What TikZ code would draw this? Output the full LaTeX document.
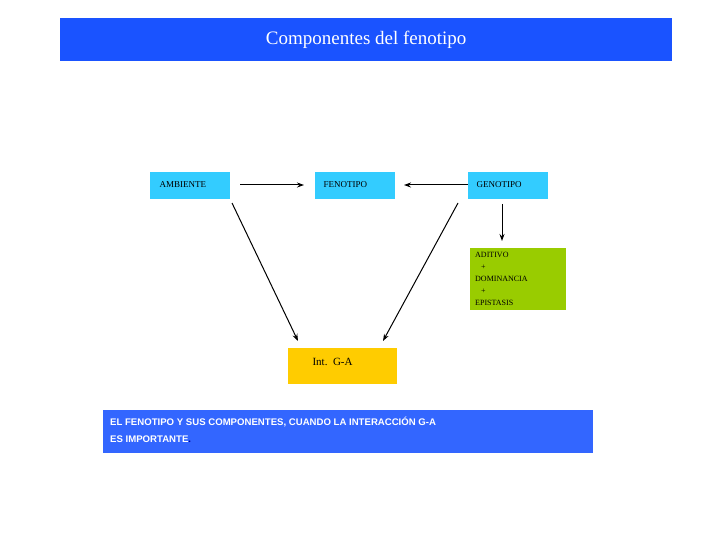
\documentclass[tikz,border=0pt]{standalone}
\usetikzlibrary{arrows.meta}
\usepackage{fontspec}
\newfontfamily\arialf{Liberation Sans}
\setmainfont{Liberation Serif}
\begin{document}
\begin{tikzpicture}[x=1pt,y=-1pt,
 box/.style={draw=none,fill=#1,inner sep=0pt,anchor=north west},
 arr/.style={-{Stealth[length=7pt,width=5pt]},line width=1pt},
 lbl/.style={font=\fontsize{9}{10}\selectfont}]
\useasboundingbox (0,0) rectangle (720,540);
\fill[white] (0,0) rectangle (720,540);
\definecolor{tb}{RGB}{26,83,255}
\node[box=tb,minimum width=612pt,minimum height=43pt] (title) at (60,18) {};
\node[text=white,font=\fontsize{19}{22}\selectfont] at (title.center) {Componentes del fenotipo};
\definecolor{cy}{RGB}{51,204,255}
\node[box=cy,minimum width=80pt,minimum height=27pt] (amb) at (150,172) {};
\node[lbl,anchor=west] at (156,185) {AMBIENTE};
\node[box=cy,minimum width=80pt,minimum height=27pt] (fen) at (315,172) {};
\node[lbl,anchor=west] at (320,185) {FENOTIPO};
\node[box=cy,minimum width=80pt,minimum height=27pt] (gen) at (468,172) {};
\node[lbl,anchor=west] at (473,185) {GENOTIPO};
\definecolor{gr}{RGB}{153,204,0}
\node[box=gr,minimum width=96pt,minimum height=62pt] (add) at (470,248) {};
\node[anchor=north west,align=left,inner sep=0pt,font=\fontsize{8}{12}\selectfont] at (475,252) {ADITIVO\\\ \ \ +\\DOMINANCIA\\\ \ \ +\\EPISTASIS};
\definecolor{yl}{RGB}{255,204,0}
\node[box=yl,minimum width=109pt,minimum height=36pt] (int) at (288,348) {};
\node[font=\fontsize{11}{13}\selectfont,anchor=west] at (309,362) {Int.\ \ G-A};
\definecolor{bl}{RGB}{51,102,255}
\node[box=bl,minimum width=490pt,minimum height=43pt] (note) at (103,410) {};
\node[anchor=north west,align=left,inner sep=0pt,text=white,font=\arialf\bfseries\fontsize{9.6}{17}\selectfont] at (110,417) {EL FENOTIPO Y SUS COMPONENTES, CUANDO LA INTERACCIÓN G-A\\ES IMPORTANTE{\color{blue!60!black}.}};
\coordinate (a1) at (240,185); \coordinate (a2) at (304,185);
\draw[arr] (a1) -- (a2);
\coordinate (b1) at (468,185); \coordinate (b2) at (404,185);
\draw[arr] (b1) -- (b2);
\coordinate (c1) at (502,204); \coordinate (c2) at (502,241);
\draw[arr] (c1) -- (c2);
\coordinate (d1) at (232,203); \coordinate (d2) at (298,341);
\draw[arr] (d1) -- (d2);
\coordinate (e1) at (458,203); \coordinate (e2) at (383,341);
\draw[arr] (e1) -- (e2);
\end{tikzpicture}
\end{document}
